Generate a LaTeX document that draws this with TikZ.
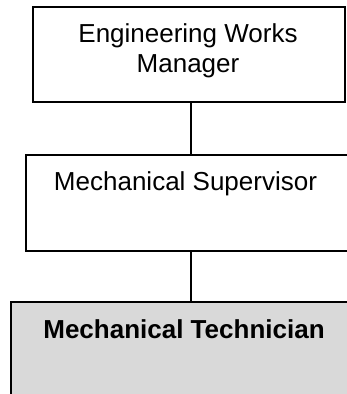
\documentclass[tikz,border=0pt]{standalone}
\usepackage{fontspec}
\setmainfont{Liberation Sans}
\usepackage{xcolor}
\usepackage{tikz}
\usetikzlibrary{positioning}
\definecolor{techgray}{RGB}{217,217,217}

\begin{document}
\begin{tikzpicture}[x=1pt, y=-1pt,
  box/.style={draw=black, line width=1.8pt, anchor=north west, inner sep=0pt},
  label text/.style={inner sep=0pt, anchor=base, align=center,
    font=\fontsize{26}{30}\selectfont}]
  \useasboundingbox (0,0) rectangle (347,394);
  \clip (0,0) rectangle (347,394);
  % the three levels
  \node[box, minimum width=312pt, minimum height=95pt] (mgr) at (32,6) {};
  \node[box, minimum width=340pt, minimum height=96pt] (sup) at (25,154) {};
  \node[box, fill=techgray, minimum width=360pt, minimum height=120pt] (tech) at (10,301) {};
  \node[label text] (mgrtxt) at (188,42) {Engineering Works};
  \node[label text] (mgrtxt2) at (188,72) {Manager};
  \node[label text] (suptxt) at (185.5,190) {Mechanical Supervisor};
  \node[label text, font=\fontsize{26}{30}\selectfont\bfseries] (techtxt) at (184,338) {Mechanical Technician};
  % reporting line
  \coordinate (spine) at (191,0);
  \draw[line width=1.3pt] (mgr.south -| spine) -- (sup.north -| spine);
  \draw[line width=1.3pt] (sup.south -| spine) -- (tech.north -| spine);
\end{tikzpicture}
\end{document}
